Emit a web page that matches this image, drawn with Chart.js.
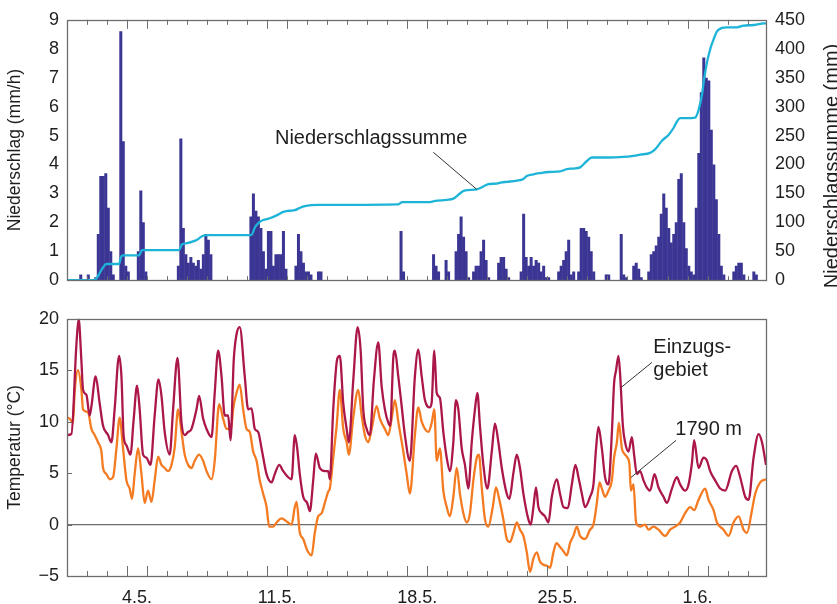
<!DOCTYPE html>
<html lang="de"><head>
<meta charset="UTF-8">
<title>Niederschlag und Temperatur</title>
<script src="https://cdn.jsdelivr.net/npm/chart.js@4.4.1/dist/chart.umd.min.js"></script>
<style>
  body { margin:0; background:#ffffff; }
  #wrap { position:relative; width:837px; height:604px; }
  #wrap canvas { position:absolute; left:0; }
</style>
</head>
<body>
<div id="wrap">
  <canvas id="rain_chart" width="837" height="300" style="top:0px"></canvas>
  <canvas id="temp_chart" width="837" height="304" style="top:300px"></canvas>
</div>
<script>
// time axis: days since 1 May, 0:00
const xMax = 34.92;
const labelDays = [3.5, 10.5, 17.5, 24.5, 31.5];
const dateLabels = ['4.5.', '11.5.', '18.5.', '25.5.', '1.6.'];

// precipitation (mm/h), 3-hour bins, one row per day
const rainStep = 0.125;
const rain = [
  0,0,0,0,0,0.2,0,0,
  0.2,0,0,0.1,1.6,3.6,3.6,3.7,
  2.5,1.0,0.2,0,0,8.6,4.8,0.5,
  0.3,0,0,0,1.0,3.1,2.0,0.3,
  0,0,0,0,0,0,0,0,
  0,0,0,0,0.5,4.9,1.8,0.9,
  0.6,0.8,0.6,0.5,0.7,0.4,0.9,1.6,
  1.4,0.9,0,0,0,0,0,0,
  0,0,0,0,0,0,0,0,
  0,2.2,3.0,2.4,2.2,1.8,1.0,0.4,
  1.7,1.7,0.5,0.9,0.9,0.9,1.7,0.4,
  0,0,0,0.5,1.6,1.0,0.6,0.3,
  0.3,0.2,0,0,0.3,0.3,0,0,
  0,0,0,0,0,0,0,0,
  0,0,0,0,0,0,0,0,
  0,0,0,0,0,0,0,0,
  0,0,0,0,0,1.7,0.3,0,
  0,0,0,0,0,0,0,0,
  0,0,0.9,0.5,0.3,0,0,0.7,
  0.3,0,0,1.0,1.6,2.2,1.5,1.0,
  0.1,0,0.3,0.5,0.5,1.0,1.4,0.7,
  0.1,0,0,0,0.6,0.8,0.8,0.4,
  0.1,0,0,0,0,0.3,2.3,0.8,
  0.5,0.8,0.5,0.7,0.6,0.3,0.5,0.1,
  0.1,0,0,0,0.3,0.5,0.7,1.0,
  1.4,0.2,0.3,0,0.3,1.8,1.8,1.7,
  1.5,1.0,0.3,0,0,0,0,0.2,
  0.2,0,0,0,0,1.6,0.2,0.1,
  0,0,0.5,0.6,0.4,0.1,0,0,
  0.3,0.9,1.0,1.2,1.5,2.3,3.0,2.5,
  1.8,1.3,1.6,2.0,3.5,3.7,2.0,1.1,
  0.5,0.3,0.2,2.5,4.4,6.5,7.7,7.0,
  6.9,5.2,4.0,2.8,1.6,0.5,0.2,0,
  0,0,0.3,0.5,0.6,0.6,0.2,0,
  0,0,0.3,0.2,0,0,0,0
];

// precipitation sum (mm)
const sumDays = [0,1.38,1.47,1.63,1.8,1.97,2.6,2.7,2.78,3.6,3.75,5.6,5.75,6.0,6.3,6.5,6.75,7.0,
  9.2,9.4,9.6,9.8,10.13,10.47,10.8,11.13,11.38,11.63,11.88,12.6,16.55,16.75,18.13,18.4,18.97,
  19.3,19.6,19.85,20.47,20.8,21.05,21.47,21.72,21.97,22.47,22.8,22.97,23.3,23.63,24.05,24.63,
  24.97,25.3,25.63,25.97,26.22,26.97,27.8,28.3,28.63,29.13,29.38,29.72,30.05,30.3,30.47,30.63,
  30.97,31.38,31.55,31.72,31.83,31.97,32.13,32.3,32.47,32.72,32.97,33.47,33.8,34.3,34.63,34.92];
const sumMm = [0,0,3,12,22,28,28,40,43,43,52,52,62,64,67,70,76,78,
  78,92,100,104,107,112,118,120,121,125,128,130,131,135,135,137,139,
  141,149,155,157,162,166,167,169,170,172,175,180,183,185,187,188,
  192,193,195,206,212,212,213,215,217,220,226,241,251,263,274,280,
  280,281,294,320,348,376,399,416,430,436,437,437,440,441,443,444];

// temperature catchment (Einzugsgebiet)
const basinDays = [0,0.22,0.47,0.58,0.72,0.8,0.97,1.13,1.22,1.43,1.63,1.8,2.05,2.22,2.38,2.6,2.72,2.83,2.97,
  3.17,3.33,3.5,3.63,3.8,3.97,4.17,4.38,4.57,4.72,4.88,5.13,5.3,5.52,5.72,5.88,6.05,6.22,6.47,6.6,6.8,6.97,
  7.22,7.38,7.55,7.72,7.88,8.05,8.17,8.33,8.47,8.63,8.88,9.05,9.22,9.38,9.55,9.72,9.97,10.22,10.38,10.6,10.8,
  11.05,11.22,11.38,11.5,11.63,11.8,12.0,12.13,12.3,12.43,12.63,12.88,13.05,13.13,13.3,13.5,13.63,13.8,13.97,
  14.08,14.3,14.52,14.67,14.8,14.97,15.13,15.33,15.55,15.72,15.88,16.05,16.15,16.3,16.38,16.55,16.72,16.88,
  17.13,17.38,17.55,17.72,17.88,18.13,18.22,18.35,18.47,18.63,18.8,18.97,19.13,19.3,19.43,19.55,19.72,19.88,
  20.05,20.22,20.38,20.5,20.63,20.8,21.0,21.22,21.38,21.55,21.72,21.97,22.1,22.3,22.47,22.63,22.8,23.05,23.17,
  23.3,23.43,23.55,23.72,23.88,24.05,24.22,24.47,24.63,24.8,25.02,25.22,25.4,25.55,25.72,25.88,26.13,26.3,
  26.43,26.55,26.72,26.88,27.05,27.22,27.33,27.43,27.55,27.63,27.77,27.88,28.05,28.22,28.33,28.47,28.63,28.8,
  28.97,29.13,29.35,29.55,29.8,29.97,30.22,30.47,30.63,30.88,31.05,31.22,31.33,31.55,31.8,31.97,32.13,32.38,
  32.63,32.88,33.22,33.43,33.63,33.88,34.05,34.3,34.55,34.72,34.92];
const basinTemp = [8.7,8.8,17.5,20.0,15.9,13.1,12.6,10.6,11.5,14.4,11.8,9.6,8.7,8.0,11.2,16.4,14.4,8.6,7.7,
  6.8,10.2,13.5,11.2,6.8,6.5,5.8,10.6,14.1,12.5,9.0,6.8,11.2,16.2,9.9,8.7,9.0,9.3,11.2,12.5,10.3,9.3,
  8.5,12.8,16.9,14.4,10.6,10.6,8.2,16.0,18.5,19.2,14.4,11.2,11.3,9.3,9.0,7.4,4.9,4.1,4.9,5.8,5.2,
  4.6,4.4,8.7,7.4,4.9,2.7,2.1,1.3,4.3,6.9,5.5,5.2,5.2,4.4,11.2,16.1,16.4,11.8,9.3,
  8.0,14.0,19.2,16.9,11.2,9.3,8.7,14.0,17.7,13.4,11.2,9.9,9.6,16.2,16.9,14.4,11.5,8.7,
  6.2,14.4,17.0,14.4,12.1,11.4,11.9,16.9,12.8,12.3,9.0,6.5,5.2,8.0,12.1,11.2,7.4,5.8,
  3.5,8.0,11.2,12.8,9.6,5.8,3.5,7.1,9.8,8.0,5.5,3.0,2.5,5.0,6.8,5.5,3.0,0.5,0.0,
  1.7,3.6,1.7,1.1,0.8,0.2,2.7,4.4,3.0,1.7,1.6,3.9,5.8,4.6,3.0,1.7,2.7,3.9,
  7.4,9.5,7.4,4.6,3.9,8.9,13.7,15.0,16.4,14.7,9.6,8.0,7.1,8.5,6.8,4.9,5.2,4.3,
  3.6,3.3,4.9,3.6,2.7,2.1,3.5,4.6,3.9,3.3,3.9,6.0,8.2,5.5,6.5,6.2,5.2,4.3,
  3.5,3.3,5.2,5.7,4.6,2.7,2.4,6.5,8.8,8.0,5.8];

// temperature station 1790 m
const stationDays = [0,0.13,0.3,0.38,0.55,0.72,0.8,1.05,1.22,1.38,1.55,1.72,1.8,1.97,2.13,2.3,2.47,2.63,2.8,
  2.97,3.13,3.25,3.38,3.55,3.72,3.88,4.05,4.22,4.38,4.55,4.72,4.88,5.05,5.22,5.38,5.55,5.72,5.88,6.05,6.22,
  6.38,6.6,6.8,6.97,7.22,7.38,7.6,7.8,7.97,8.13,8.22,8.3,8.47,8.63,8.8,8.97,9.13,9.3,9.47,9.63,9.8,9.97,
  10.1,10.3,10.47,10.72,10.97,11.22,11.38,11.47,11.63,11.8,12.0,12.22,12.38,12.55,12.72,12.88,13.05,13.13,
  13.3,13.47,13.63,13.8,13.97,14.08,14.3,14.55,14.72,14.88,15.05,15.22,15.47,15.63,15.88,16.05,16.22,16.38,
  16.55,16.8,16.97,17.13,17.38,17.55,17.72,17.88,18.05,18.22,18.35,18.47,18.63,18.8,18.97,19.13,19.3,19.47,
  19.63,19.8,19.97,20.13,20.3,20.47,20.58,20.72,20.88,21.05,21.27,21.43,21.6,21.8,21.97,22.13,22.3,22.47,
  22.63,22.8,22.97,23.13,23.3,23.47,23.63,23.8,23.97,24.13,24.3,24.45,24.6,24.8,24.97,25.13,25.3,25.47,
  25.63,25.88,26.13,26.3,26.47,26.6,26.72,26.88,27.05,27.22,27.33,27.47,27.57,27.72,27.88,28.0,28.1,28.17,
  28.3,28.43,28.63,28.88,29.05,29.3,29.55,29.88,30.13,30.38,30.63,30.88,31.13,31.33,31.55,31.88,32.05,32.3,
  32.47,32.8,33.05,33.3,33.55,33.8,33.97,34.22,34.38,34.63,34.92];
const stationTemp = [10.4,10.3,9.9,12.8,15.0,13.1,11.2,10.9,9.3,8.7,8.0,7.1,5.5,4.9,4.4,4.6,7.4,10.4,7.4,
  4.3,3.5,2.5,4.9,7.4,4.9,2.1,3.3,2.2,4.3,6.6,5.8,5.5,5.2,5.8,7.5,11.2,9.0,6.8,5.8,5.5,
  6.2,6.8,6.2,5.2,4.4,6.2,11.7,10.3,9.3,9.3,9.6,11.2,12.8,13.6,11.2,9.3,9.0,7.1,6.2,4.3,3.0,1.7,
  -0.2,-0.2,0.2,0.6,0.3,0.0,1.7,2.2,-0.8,-1.4,-2.5,-3.0,-0.8,0.8,1.1,2.1,3.2,3.5,
  6.5,9.6,13.1,9.3,8.0,6.8,10.4,13.1,10.6,8.7,8.0,9.3,11.5,10.3,9.3,8.7,10.3,12.1,
  10.0,7.1,4.9,3.0,8.7,11.4,10.0,9.3,9.0,9.9,11.2,6.2,7.4,3.3,1.7,0.8,2.7,5.5,
  3.0,1.1,0.2,1.1,4.3,6.5,6.8,3.6,0.5,-0.2,1.7,3.6,2.4,0.5,-1.4,-1.7,-0.8,0.2,
  -0.5,-1.1,-2.7,-4.6,-3.3,-2.7,-3.6,-3.9,-4.0,-4.2,-2.7,-1.8,-2.1,-2.6,-3.0,-1.8,-1.1,-0.2,
  -1.1,-1.4,-0.5,0.0,2.1,4.1,3.5,2.7,3.3,4.3,6.5,8.0,9.9,7.4,6.8,6.5,5.8,3.3,
  3.9,0.2,-0.2,0.0,-0.5,-0.2,-0.5,-1.1,-0.5,-0.2,0.2,1.1,1.7,1.4,2.4,3.5,2.4,1.4,
  0.2,-0.5,-1.1,0.2,0.8,-0.5,-0.8,1.4,3.0,4.1,4.4];

const fontFamily = '"Liberation Sans", Arial, Helvetica, sans-serif';
const textColor = '#1e1e1e';
const frameColor = '#6e6e6e';
Chart.defaults.font.family = fontFamily;
Chart.defaults.color = textColor;

const pairs = (xs, ys) => xs.map((x, i) => ({ x: x, y: ys[i] }));
const isBound = d => labelDays.some(v => Math.abs(v - d) === 0.5);

// frame and inward day ticks
const framePlugin = {
  id: 'frame',
  afterDraw(chart, args, o) {
    const { ctx, chartArea: a, scales } = chart;
    const xs = scales.x;
    ctx.save();
    ctx.strokeStyle = frameColor;
    ctx.lineWidth = 1;
    ctx.beginPath();
    for (let d = 1; d < xs.max; d++) {
      const px = Math.round(xs.getPixelForValue(d)) + 0.5;
      if (o.topTicks) {
        const len = isBound(d) ? o.topTicks[1] : o.topTicks[0];
        ctx.moveTo(px, a.top); ctx.lineTo(px, a.top + len);
      }
      if (o.bottomTicks) {
        const len = isBound(d) ? o.bottomTicks[1] : o.bottomTicks[0];
        ctx.moveTo(px, a.bottom); ctx.lineTo(px, a.bottom - len);
      }
    }
    if (o.yTicks) {
      const ys = scales.y;
      ys.ticks.forEach(t => {
        const py = Math.round(ys.getPixelForValue(t.value)) + 0.5;
        ctx.moveTo(a.left, py); ctx.lineTo(a.left + o.yTicks, py);
      });
    }
    ctx.stroke();
    ctx.lineWidth = 1.3;
    ctx.strokeRect(Math.round(a.left) + 0.5, Math.round(a.top) + 0.5,
      Math.round(a.right - a.left), Math.round(a.bottom - a.top));
    ctx.restore();
  }
};

// text labels with leader lines, placed in data units
const notesPlugin = {
  id: 'notes',
  afterDatasetsDraw(chart, args, o) {
    const { ctx, scales } = chart;
    const xs = scales.x, ys = scales[o.axis];
    const px = v => xs.getPixelForValue(v), py = v => ys.getPixelForValue(v);
    ctx.save();
    ctx.font = '20px ' + fontFamily;
    ctx.fillStyle = textColor;
    ctx.strokeStyle = '#333333';
    ctx.lineWidth = 1;
    ctx.textBaseline = 'middle';
    ctx.textAlign = 'left';
    o.items.forEach(n => {
      ctx.fillText(n.text, px(n.at[0]), py(n.at[1]));
      if (n.from) {
        ctx.beginPath();
        ctx.moveTo(px(n.from[0]), py(n.from[1]));
        ctx.lineTo(px(n.to[0]), py(n.to[1]));
        ctx.stroke();
      }
    });
    ctx.restore();
  }
};

// right axis title, reading bottom to top
const sideTitlePlugin = {
  id: 'sideTitle',
  afterDraw(chart, args, o) {
    const s = chart.scales[o.axis];
    const ctx = chart.ctx;
    ctx.save();
    ctx.translate(o.x, (s.top + s.bottom) / 2 + o.dy);
    ctx.rotate(-Math.PI / 2);
    ctx.font = o.size + 'px ' + fontFamily;
    ctx.fillStyle = textColor;
    ctx.textAlign = 'center';
    ctx.textBaseline = 'alphabetic';
    ctx.fillText(o.text, 0, 0);
    ctx.restore();
  }
};

const tickFont = { size: 18, family: fontFamily };
const titleFont = { size: 17.5, family: fontFamily };

new Chart(document.getElementById('rain_chart'), {
  type: 'bar',
  data: {
    datasets: [
      {
        type: 'line',
        label: 'Niederschlagssumme',
        data: pairs(sumDays, sumMm),
        yAxisID: 'y2',
        borderColor: '#1db4d8',
        borderWidth: 2.3,
        pointRadius: 0,
        cubicInterpolationMode: 'monotone',
        order: 0
      },
      {
        type: 'bar',
        label: 'Niederschlag',
        data: rain.map((v, i) => ({ x: (i + 0.5) * rainStep, y: v })),
        yAxisID: 'y',
        backgroundColor: '#3b3593',
        borderWidth: 0,
        barPercentage: 1.2,
        categoryPercentage: 1,
        order: 1
      }
    ]
  },
  options: {
    responsive: false,
    animation: false,
    devicePixelRatio: 1,
    layout: { padding: { top: 17, bottom: 19, left: 0, right: 0 } },
    plugins: {
      legend: { display: false },
      tooltip: { enabled: false },
      frame: { topTicks: [5, 9], bottomTicks: [4, 4] },
      notes: {
        axis: 'y2',
        items: [
          { text: 'Niederschlagssumme', at: [10.39, 245], from: [18.3, 221], to: [20.47, 157] }
        ]
      },
      sideTitle: { axis: 'y2', text: 'Niederschlagssumme (mm)', x: 837.5, dy: 16, size: 20 }
    },
    scales: {
      x: { type: 'linear', min: 0, max: xMax, display: false, offset: false },
      y: {
        position: 'left', min: 0, max: 9,
        afterFit: s => { s.width = 67; },
        grid: { display: false, drawTicks: false },
        border: { display: false },
        ticks: { stepSize: 1, padding: 8, font: tickFont, color: textColor },
        title: { display: true, text: 'Niederschlag (mm/h)', font: titleFont, color: textColor, padding: { top: 5, bottom: 0 } }
      },
      y2: {
        position: 'right', min: 0, max: 450,
        afterFit: s => { s.width = 71; },
        grid: { display: false, drawTicks: false },
        border: { display: false },
        ticks: { stepSize: 50, padding: 9, font: tickFont, color: textColor }
      }
    }
  },
  plugins: [framePlugin, notesPlugin, sideTitlePlugin]
});

new Chart(document.getElementById('temp_chart'), {
  type: 'line',
  data: {
    datasets: [
      {
        label: 'Einzugsgebiet',
        data: pairs(basinDays, basinTemp),
        borderColor: '#ab1748',
        borderWidth: 2.3,
        pointRadius: 0,
        cubicInterpolationMode: 'monotone'
      },
      {
        label: '1790 m',
        data: pairs(stationDays, stationTemp),
        borderColor: '#f47b22',
        borderWidth: 2.3,
        pointRadius: 0,
        cubicInterpolationMode: 'monotone'
      }
    ]
  },
  options: {
    responsive: false,
    animation: false,
    devicePixelRatio: 1,
    layout: { padding: { top: 12, right: 71, left: 0, bottom: 0 } },
    plugins: {
      legend: { display: false },
      tooltip: { enabled: false },
      frame: { bottomTicks: [5, 10], yTicks: 5 },
      notes: {
        axis: 'y',
        items: [
          { text: 'Einzugs-', at: [29.29, 17.2] },
          { text: 'gebiet', at: [29.29, 15.0], from: [29.22, 15.76], to: [27.69, 13.34] },
          { text: '1790 m', at: [30.39, 9.25], from: [30.43, 8.19], to: [28.17, 4.57] }
        ]
      }
    },
    scales: {
      x: {
        type: 'linear', min: 0, max: xMax, position: 'bottom',
        afterFit: s => { s.height = 28; },
        afterBuildTicks: s => { s.ticks = labelDays.map(v => ({ value: v })); },
        grid: { display: false, drawTicks: false },
        border: { display: false },
        ticks: { callback: (v, i) => dateLabels[i], padding: 11, maxRotation: 0, autoSkip: false, font: tickFont, color: textColor }
      },
      y: {
        min: -5, max: 20,
        afterFit: s => { s.width = 67; },
        grid: { drawTicks: false, lineWidth: 1.2, color: c => (c.tick && c.tick.value === 0) ? frameColor : 'rgba(0,0,0,0)' },
        border: { display: false },
        ticks: { stepSize: 5, padding: 8, font: tickFont, color: textColor, callback: v => v < 0 ? '\u2212' + (-v) : String(v) },
        title: { display: true, text: 'Temperatur (°C)', font: titleFont, color: textColor, padding: { top: 5, bottom: 0 } }
      }
    }
  },
  plugins: [framePlugin, notesPlugin]
});
</script>
</body></html>
